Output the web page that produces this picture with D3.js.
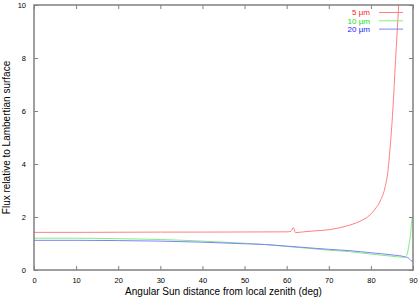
<!DOCTYPE html>
<meta charset="utf-8">
<style>
    body {
        margin: 0;
        padding: 0;
        background: #fff;
        font-family: "Liberation Sans", Arial, Helvetica, sans-serif;
    }

    svg {
        display: block;
    }

    .frame {
        fill: none;
        stroke: #808080;
        stroke-width: 1.5px;
    }

    .tick line {
        stroke: #808080;
    }

    .curve {
        fill: none;
        stroke-width: 1px;
    }
</style>
<svg width="419" height="298"></svg>
<script src="https://cdn.jsdelivr.net/npm/d3@7"></script>
<script>
    // zenith angle (deg) and flux values
    var red5 = [[0, 1.42], [10, 1.42], [20, 1.425], [30, 1.43], [40, 1.43], [50, 1.435], [60, 1.44], [61, 1.46],
        [61.6, 1.6], [62.1, 1.41], [64, 1.44], [67, 1.48], [70, 1.52], [74, 1.65], [77.4, 1.84],
        [79.8, 2.08], [81, 2.3], [82.2, 2.6], [83.4, 3.15], [84.1, 3.8], [84.5, 4.5], [85.2, 6.0],
        [85.85, 7.9], [86.6, 10], [87.2, 11.8]];
    var green10 = [[0, 1.2], [10, 1.2], [20, 1.18], [30, 1.15], [40, 1.09], [50, 1.01], [55, 0.96], [60, 0.89],
        [65, 0.82], [70, 0.75], [75, 0.69], [80, 0.6], [85, 0.52], [88, 0.48], [88.5, 0.55], [89, 0.9],
        [89.3, 1.2], [89.5, 1.45], [89.7, 1.9], [89.8, 1.95]];
    var blue20 = [[0, 1.12], [10, 1.12], [20, 1.11], [30, 1.09], [40, 1.05], [50, 0.99], [55, 0.96], [60, 0.9],
        [65, 0.84], [70, 0.78], [75, 0.73], [80, 0.65], [85, 0.57], [88, 0.5], [89, 0.44], [89.5, 0.36], [90, 0.32]];

    var seriesNames = ["5 \u00b5m", "10 \u00b5m", "20 \u00b5m"];
    var seriesColors = ["#ff8080", "#80ee80", "#8080ff"];
    var textColors = ["#ff2020", "#20dd20", "#2020ff"];
    var xTicks = [0, 10, 20, 30, 40, 50, 60, 70, 80, 90];
    var yTicks = [0, 2, 4, 6, 8, 10];

    var svg = d3.select("svg");
    var plotL = 34, plotR = 413, plotT = 5, plotB = 270;

    var x = d3.scaleLinear().domain([0, 90]).range([plotL, plotR]);
    var y = d3.scaleLinear().domain([0, 10]).range([plotB, plotT]);

    svg.append("clipPath").attr("id", "plot")
        .append("rect")
        .attr("x", plotL).attr("y", plotT)
        .attr("width", plotR - plotL).attr("height", plotB - plotT);

    function tickStyle(g) {
        g.select(".domain").remove();
        g.selectAll(".tick text")
            .attr("fill", "#000")
            .style("font-size", "7.5px")
            .style("font-family", "Liberation Sans, Arial, sans-serif");
    }

    // bottom and left axes with inward ticks, plus mirrored ticks
    svg.append("g")
        .attr("transform", "translate(0," + plotB + ")")
        .call(d3.axisBottom(x).tickValues(xTicks).tickSizeInner(-4).tickSizeOuter(0).tickPadding(8))
        .call(tickStyle);
    svg.append("g")
        .attr("transform", "translate(0," + plotT + ")")
        .call(d3.axisTop(x).tickValues(xTicks).tickSizeInner(-4).tickSizeOuter(0).tickFormat(""))
        .call(tickStyle);
    svg.append("g")
        .attr("transform", "translate(" + plotL + ",0)")
        .call(d3.axisLeft(y).tickValues(yTicks).tickSizeInner(-4).tickSizeOuter(0).tickPadding(8))
        .call(tickStyle);
    svg.append("g")
        .attr("transform", "translate(" + plotR + ",0)")
        .call(d3.axisRight(y).tickValues(yTicks).tickSizeInner(-4).tickSizeOuter(0).tickFormat(""))
        .call(tickStyle);

    var line = d3.line()
        .curve(d3.curveMonotoneX)
        .x(function(d) { return x(d[0]); })
        .y(function(d) { return y(d[1]); });

    var curves = svg.append("g").attr("clip-path", "url(#plot)");
    [red5, green10, blue20].forEach(function(s, i) {
        curves.append("path")
            .attr("class", "curve")
            .attr("stroke", seriesColors[i])
            .attr("d", line(s));
    });

    svg.append("rect")
        .attr("class", "frame")
        .attr("x", plotL).attr("y", plotT)
        .attr("width", plotR - plotL).attr("height", plotB - plotT);

    // legend
    var legend = svg.append("g");
    seriesNames.forEach(function(name, i) {
        var ly = 12.5 + i * 8.3;
        legend.append("text")
            .attr("x", 370).attr("y", ly + 2.7)
            .attr("text-anchor", "end")
            .attr("fill", textColors[i])
            .style("font-size", "8px")
            .text(name);
        legend.append("line")
            .attr("x1", 379).attr("x2", 403)
            .attr("y1", ly).attr("y2", ly)
            .attr("stroke", seriesColors[i]);
    });

    svg.append("text")
        .attr("x", (plotL + plotR) / 2).attr("y", 295)
        .attr("text-anchor", "middle")
        .style("font-size", "10px")
        .text("Angular Sun distance from local zenith (deg)");

    svg.append("text")
        .attr("transform", "translate(10," + (plotT + plotB) / 2 + ") rotate(-90)")
        .attr("text-anchor", "middle")
        .style("font-size", "10px")
        .text("Flux relative to Lambertian surface");
</script>
